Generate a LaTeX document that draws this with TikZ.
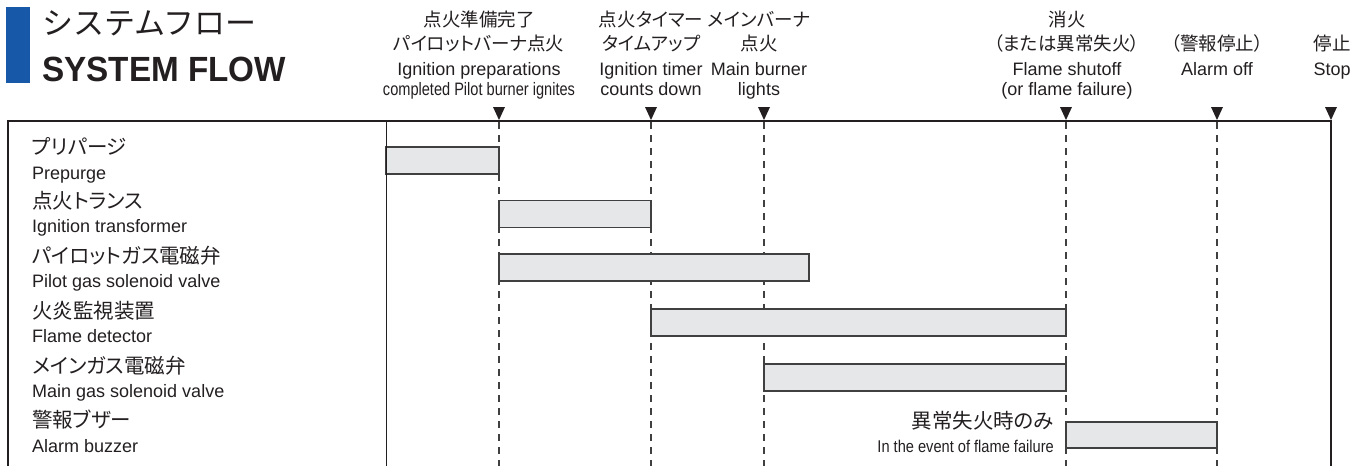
\documentclass[tikz,border=0pt]{standalone}
\usepackage{fontspec}
\setmainfont{Liberation Sans}
\newfontfamily\jpfont[RawFeature=+palt]{Noto Sans CJK JP}
\newfontfamily\jpplain{Noto Sans CJK JP}
\newfontfamily\condA[FakeStretch=0.81]{Liberation Sans}
\newfontfamily\condB[FakeStretch=0.86]{Liberation Sans}
\newfontfamily\titlefont[FakeStretch=0.95]{Liberation Sans}
\definecolor{ink}{RGB}{35,31,32}
\definecolor{titleblue}{RGB}{24,88,168}
\definecolor{barfill}{RGB}{230,231,232}
\definecolor{barline}{RGB}{64,64,64}
\tikzset{
  hj/.style={anchor=base, inner sep=0pt, font=\jpfont\fontsize{18.5}{20}\selectfont, text=ink},
  he/.style={anchor=base, inner sep=0pt, font=\fontsize{18}{20}\selectfont, text=ink},
  hc/.style={anchor=base, inner sep=0pt, font=\condA\fontsize{18}{20}\selectfont, text=ink},
  lj/.style={anchor=base west, inner sep=0pt, font=\jpfont\fontsize{20.5}{22}\selectfont, text=ink},
  le/.style={anchor=base west, inner sep=0pt, font=\fontsize{18}{20}\selectfont, text=ink},
  bar/.style={draw=barline, fill=barfill, line width=1.2pt},
  evline/.style={draw=barline, line width=1.1pt, dash pattern=on 7pt off 6pt},
  marker/.style={fill=ink},
  frameline/.style={draw=ink, line width=2.2pt},
}
\begin{document}
\begin{tikzpicture}[x=1pt,y=-1pt]
\useasboundingbox (0,0) rectangle (1365,466);
% title
\fill[titleblue] (6,7) rectangle (30,83);
\node[anchor=base west, inner sep=0pt, font=\jpplain\fontsize{31}{33}\selectfont, text=ink] (tj) at (42,34) {システムフロー};
\node[anchor=base west, inner sep=0pt, font=\titlefont\bfseries\fontsize{35}{38}\selectfont, text=ink] (te) at (42,81) {SYSTEM FLOW};
% event coordinates
\foreach \n/\x in {1/499,2/651,3/764,4/1066,5/1217,6/1331}{
  \coordinate (t\n) at (\x,121);
  \coordinate (b\n) at (\x,466);
}
\coordinate (s0) at (386,121);
\coordinate (s1) at (386,466);
\coordinate (fl) at (8,466);
\coordinate (ftl) at (8,121);
% dashed event lines
\foreach \n in {1,...,5}{ \draw[evline] ([yshift=-1pt]t\n) -- (b\n); }
% bars
\draw[bar] (386,147) rectangle (499,174);
\draw[bar] (499,200.5) rectangle (651,227.5);
\draw[bar] (499,254) rectangle (809,281);
\draw[bar] (651,309) rectangle (1066,336);
\draw[bar] (764,364) rectangle (1066,391);
\draw[bar] (1066,422) rectangle (1217,448);
% frame
\draw[draw=ink, line width=1pt] (s0) -- (s1);
\draw[frameline] (fl) -- (ftl) -- (t6) -- (b6);
% markers
\foreach \n in {1,...,6}{
  \fill[marker] ([xshift=-6pt,yshift=14pt]t\n) -- ([xshift=6pt,yshift=14pt]t\n) -- ([yshift=1pt]t\n) -- cycle;
}
% header labels
\node[hj] (g1a) at (479,26) {点火準備完了};
\node[hj] (g1b) at (479,50) {パイロットバーナ点火};
\node[he] (g1c) at (479,75) {Ignition preparations};
\node[hc] (g1d) at (479,95) {completed Pilot burner ignites};
\node[hj] (g2a) at (651,26) {点火タイマー};
\node[hj] (g2b) at (651,50) {タイムアップ};
\node[he] (g2c) at (651,75) {Ignition timer};
\node[he] (g2d) at (651,95) {counts down};
\node[hj] (g3a) at (759,26) {メインバーナ};
\node[hj] (g3b) at (759,50) {点火};
\node[he] (g3c) at (759,75) {Main burner};
\node[he] (g3d) at (759,95) {lights};
\node[hj] (g4a) at (1067,26) {消火};
\node[hj] (g4b) at (1067,50) {（または異常失火）};
\node[he] (g4c) at (1067,75) {Flame shutoff};
\node[he] (g4d) at (1067,95) {(or flame failure)};
\node[hj] (g5b) at (1217,50) {（警報停止）};
\node[he] (g5c) at (1217,75) {Alarm off};
\node[hj] (g6b) at (1332,50) {停止};
\node[he] (g6c) at (1332,75) {Stop};
% row labels
\node[lj] (r1j) at (32,154) {プリパージ};
\node[le] (r1e) at (32,179) {Prepurge};
\node[lj] (r2j) at (32,208) {点火トランス};
\node[le] (r2e) at (32,232) {Ignition transformer};
\node[lj] (r3j) at (32,263) {パイロットガス電磁弁};
\node[le] (r3e) at (32,287) {Pilot gas solenoid valve};
\node[lj] (r4j) at (32,318) {火炎監視装置};
\node[le] (r4e) at (32,342) {Flame detector};
\node[lj] (r5j) at (32,373) {メインガス電磁弁};
\node[le] (r5e) at (32,397) {Main gas solenoid valve};
\node[lj] (r6j) at (32,427) {警報ブザー};
\node[le] (r6e) at (32,452) {Alarm buzzer};
% note
\node[lj, anchor=base east] (nj) at (1054,428) {異常失火時のみ};
\node[anchor=base east, inner sep=0pt, font=\condB\fontsize{17}{19}\selectfont, text=ink] (ne) at (1054,452) {In the event of flame failure};
\end{tikzpicture}
\end{document}
